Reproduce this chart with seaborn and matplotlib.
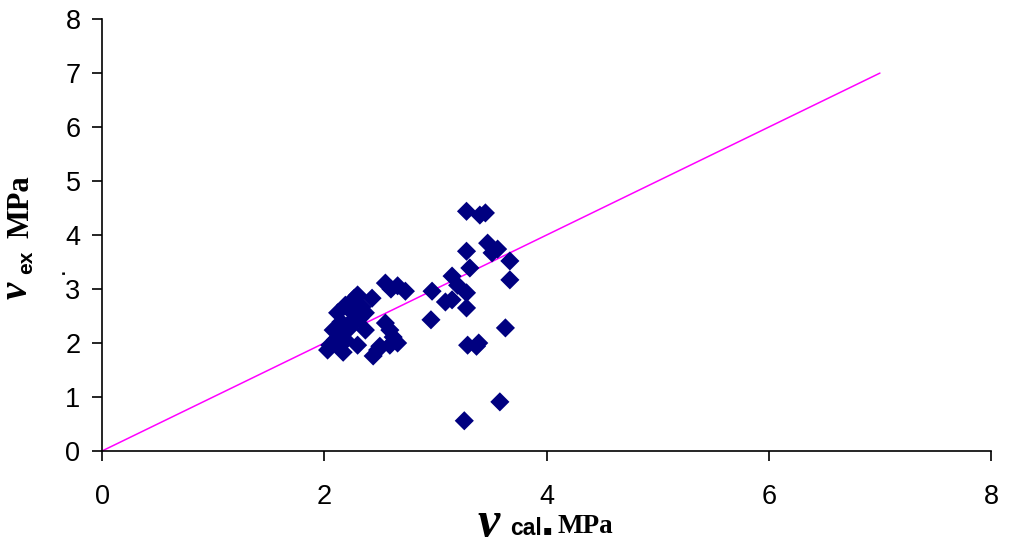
import matplotlib
matplotlib.use("Agg")
import matplotlib.pyplot as plt
import seaborn as sns
import pandas as pd

# Calculated vs experimental shear strength (MPa)
v_cal = [3.28, 3.40, 3.45, 3.28, 3.47, 3.51, 3.56, 3.67, 3.31, 3.15, 3.20, 2.97,
         3.09, 3.15, 3.28, 3.67, 3.28, 2.96, 3.63, 3.29, 3.37, 3.39, 3.58, 3.26,
         2.55, 2.60, 2.66, 2.73, 2.43, 2.55, 2.59, 2.62, 2.66, 2.59, 2.50, 2.48,
         2.44, 2.37,
         2.27, 2.34, 2.32, 2.25, 2.19, 2.12, 2.15, 2.08, 2.12, 2.23, 2.19, 2.10,
         2.05, 2.03, 2.15, 2.30, 2.17, 2.21, 2.29, 2.37, 2.30]
v_ex = [4.44, 4.37, 4.41, 3.70, 3.85, 3.67, 3.74, 3.52, 3.39, 3.24, 3.07, 2.96,
        2.76, 2.80, 2.93, 3.17, 2.65, 2.43, 2.28, 1.96, 1.94, 2.00, 0.91, 0.56,
        3.11, 3.00, 3.06, 2.96, 2.83, 2.37, 2.24, 2.11, 2.00, 1.96, 1.94, 1.87,
        1.76, 2.24,
        2.83, 2.67, 2.46, 2.57, 2.70, 2.56, 2.39, 2.24, 2.18, 2.28, 2.06, 2.06,
        1.96, 1.87, 1.96, 1.96, 1.83, 2.33, 2.42, 2.56, 2.89]

# Line of equality
line_x = [0, 7]
line_y = [0, 7]

x_ticks = [0, 2, 4, 6, 8]
y_ticks = [0, 1, 2, 3, 4, 5, 6, 7, 8]

sns.set_style("ticks")
plt.rcParams["font.family"] = ["Liberation Sans", "DejaVu Sans"]
plt.rcParams["text.color"] = "black"

fig = plt.figure(figsize=(10.12, 5.46), dpi=100)
ax = fig.add_axes([0.1008, 0.174, 0.8785, 0.791])

pts = pd.DataFrame({"v_cal": v_cal, "v_ex": v_ex})
line = pd.DataFrame({"x": line_x, "y": line_y})

sns.lineplot(data=line, x="x", y="y", ax=ax, color="#ff00ff", linewidth=1.1)
sns.scatterplot(data=pts, x="v_cal", y="v_ex", ax=ax, marker="D", s=95,
                color="#000080", edgecolor="none", zorder=3)

ax.set_xlim(0, 8)
ax.set_ylim(0, 8)
ax.set_xticks(x_ticks)
ax.set_yticks(y_ticks)
ax.tick_params(axis="both", labelsize=19.5, direction="out", length=7,
               width=1.2, color="black", labelcolor="black")
ax.tick_params(axis="x", pad=17)
ax.tick_params(axis="y", pad=8.5)
for s in ("left", "bottom"):
    ax.spines[s].set_color("black")
    ax.spines[s].set_linewidth(1.2)
sns.despine(ax=ax)
ax.set_xlabel("")
ax.set_ylabel("")

serif_bi = dict(family="Liberation Serif", weight="bold", style="italic")
serif_b = dict(family="Liberation Serif", weight="bold")
sans_b = dict(family="Liberation Sans", weight="bold")


def fx(px):
    return px / 1012


def fy(py):
    return 1 - py / 546


# x-axis title: v_cal. MPa
fig.text(fx(478), fy(536), "v", fontsize=36, **serif_bi, va="baseline")
fig.text(fx(510), fy(535), "cal", fontsize=16.5, **sans_b, va="baseline")
fig.text(fx(543), fy(534), "\u25aa", fontsize=10, family="DejaVu Sans",
         va="baseline")
fig.text(fx(557), fy(533), "MPa", fontsize=19.5, **serif_b, va="baseline")

# y-axis title: v_ex MPa (rotated)
fig.text(fx(36), fy(299), "v", fontsize=28, rotation=90, **serif_bi,
         ha="right", va="bottom")
fig.text(fx(36), fy(274), "ex", fontsize=15, rotation=90, **sans_b,
         ha="right", va="bottom")
fig.text(fx(36), fy(238), "MPa", fontsize=22, rotation=90, **serif_b,
         ha="right", va="bottom")
fig.text(fx(68), fy(274), ".", fontsize=12, rotation=90, **sans_b,
         ha="right", va="bottom")

fig.savefig("out.png", dpi=100)
